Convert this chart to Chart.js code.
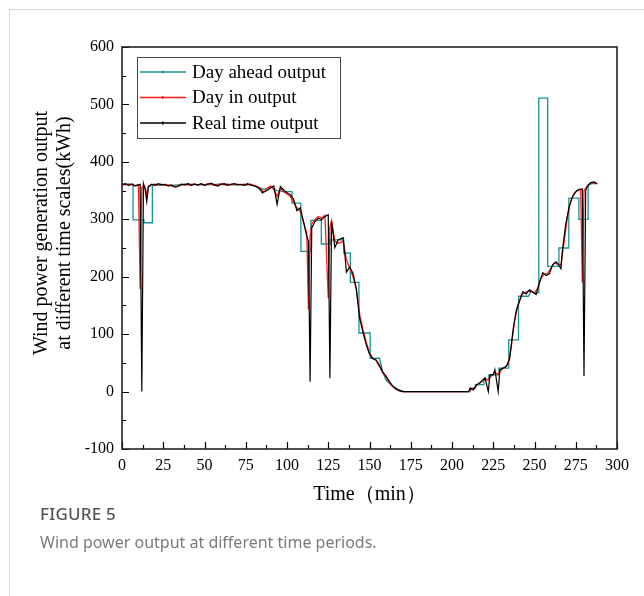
<!DOCTYPE html>
<html><head><meta charset="utf-8">
<script src="https://cdn.jsdelivr.net/npm/chart.js@4.4.1/dist/chart.umd.min.js"></script>
<style>
html,body{margin:0;padding:0;background:#fff;}
#wrap{position:relative;width:644px;height:596px;overflow:hidden;background:#fff;}
#card{position:absolute;left:9px;top:9px;width:800px;height:800px;border-left:1px solid #d9d9d9;border-top:1px solid #d9d9d9;}
#cv{position:absolute;left:0;top:0;}
#fig{position:absolute;left:40px;top:502px;font-family:"Noto Sans","Open Sans",sans-serif;font-size:17px;color:#555;font-weight:500;letter-spacing:0.2px;}
#cap{position:absolute;left:40px;top:531px;font-family:"Noto Sans","Open Sans",sans-serif;font-size:16px;color:#7a7a7a;}
</style></head>
<body>
<div id="wrap">
<div id="card"></div>
<canvas id="cv" width="644" height="520"></canvas>
<div id="fig">FIGURE 5</div>
<div id="cap">Wind power output at different time periods.</div>
</div>
<script>
// ---- data ----
const xTicks = [0,25,50,75,100,125,150,175,200,225,250,275,300];
const yTicks = [-100,0,100,200,300,400,500,600];

const dayAheadT = [0,6.7,6.7,13.3,13.3,18.4,18.4,30,40,50,60,70,78,82,86,90,94,98,103,103,108.4,108.4,114.5,114.5,120.8,120.8,126.6,126.6,134.4,134.4,138.4,138.4,143.6,143.6,150.4,150.4,156,158,160,164,168,171,211,211,214.2,214.2,219.3,219.3,222.3,222.3,228.4,228.4,234.4,234.4,240.3,240.3,246.3,248,250,252.6,252.6,258,258,264.8,264.8,270.8,270.8,276.9,276.9,282.5,282.5,285,288];
const dayAheadV = [361,361,299,299,294,294,360,359,361,360,361,360,360,357,352,356,350,348,348,328,328,244,244,298,298,257,257,264,264,241,241,190,190,102,102,58,58,35,20,9,3,0,0,6,6,12,12,21,21,29,29,41,41,90,90,166,166,175,172,172,511,511,218,218,250,250,337,337,300,300,360,362,362];

const dayInT = [0,2,4,6,8,10,11,12,13,14,15,16,18,20,22,24,26,28,30,32,34,36,38,40,42,44,46,48,50,52,54,56,58,60,62,64,66,68,70,72,74,76,78,80,82,84,86,88,90,92,94,96,98,100,102,104,106,108,110,112,113,114,115,117,119,121,123,125,126,127,129,131,134,136,138,140,142,144,146,148,150,152,154,156,158,160,162,164,166,168,170,180,190,200,210,212,214,216,218,220,222,224,226,228,230,232,234,236,238,240,242,244,246,248,250,252,254,256,258,260,262,264,266,268,270,272,274,276,278,279,280,282,284,286,288];
const dayInV = [361,360,361,360,359,360,178,355,360,356,342,358,360,361,360,361,359,360,358,357,358,360,361,360,360,362,359,361,360,362,361,359,360,362,360,361,360,361,361,360,361,360,361,359,357,353,347,354,358,352,340,354,348,344,340,330,320,314,295,275,143,270,292,300,305,302,307,163,285,298,262,258,262,230,215,200,180,135,108,86,68,58,54,44,33,25,16,9,4,1,0,0,0,0,0,4,8,14,18,22,20,28,33,30,38,42,48,80,125,150,168,172,175,174,172,180,198,204,206,215,224,222,220,262,305,332,345,350,352,190,350,358,363,364,362];

const realT = [0,2,4,6,8,10,11,12,13,14,15,16,18,20,22,24,26,28,30,32,34,36,38,40,42,44,46,48,50,52,54,56,58,60,62,64,66,68,70,72,74,76,78,80,82,84,85,86,88,90,92,94,96,98,100,102,104,106,108,110,112,113,114,115,117,119,121,123,125,126,127,129,131,134,135,136,138,140,142,144,146,148,150,152,154,156,158,160,162,164,166,168,170,180,190,200,210,211,213,215,217,219,220,222,223,225,226,228,229,231,233,235,237,239,241,243,245,247,249,251,253,255,257,259,261,263,264,266,267,269,271,273,275,277,278,279,280,281,282,284,286,288];
const realV = [360,362,359,361,358,360,361,0,362,352,331,356,361,359,362,360,361,358,360,356,357,361,360,362,359,361,360,362,359,361,363,360,358,361,362,359,361,362,360,361,359,362,360,358,356,351,346,348,350,355,358,326,357,351,346,343,335,315,320,296,270,262,17,285,296,302,299,305,308,23,296,251,264,268,241,208,217,206,178,128,104,82,65,57,55,46,34,27,18,10,5,2,0,0,0,0,0,6,3,12,15,21,24,0,29,29,38,0,38,41,44,58,107,142,158,174,170,177,173,169,190,207,202,205,221,226,223,214,248,293,322,339,348,352,352,353,27,350,357,364,365,362];

const seriesNames = ['Day ahead output','Day in output','Real time output'];
const seriesColors = ['#1a9393','#ff1a1a','#000000'];

const toXY = (t, v) => t.map((x, i) => ({x: x, y: v[i]}));

const FONT = "'Liberation Serif', 'Times New Roman', serif";
Chart.defaults.font.family = FONT;
Chart.defaults.color = '#000';

const framePlugin = {
  id: 'frame',
  afterDraw(chart) {
    const {ctx, chartArea: a, scales: {x, y}} = chart;
    ctx.save();
    ctx.strokeStyle = '#000';
    ctx.lineWidth = 1.2;
    ctx.beginPath();
    for (const v of yTicks) {
      const py = Math.round(y.getPixelForValue(v)) + 0.5;
      ctx.moveTo(a.left, py); ctx.lineTo(a.left + 7, py);
      if (v < 600) {
        const pm = Math.round(y.getPixelForValue(v + 50)) + 0.5;
        ctx.moveTo(a.left, pm); ctx.lineTo(a.left + 4, pm);
      }
    }
    for (const v of xTicks) {
      const px = Math.round(x.getPixelForValue(v)) + 0.5;
      ctx.moveTo(px, a.bottom); ctx.lineTo(px, a.bottom - 7);
      if (v < 300) {
        const pm = Math.round(x.getPixelForValue(v + 12.5)) + 0.5;
        ctx.moveTo(pm, a.bottom); ctx.lineTo(pm, a.bottom - 4);
      }
    }
    ctx.stroke();
    ctx.lineWidth = 1.6;
    ctx.strokeStyle = '#222';
    ctx.strokeRect(a.left, a.top, a.right - a.left, a.bottom - a.top);

    // tick labels, placed through the chart's own scales
    ctx.fillStyle = '#000';
    ctx.font = '16px ' + FONT;
    ctx.textAlign = 'right';
    ctx.textBaseline = 'middle';
    for (const v of yTicks) ctx.fillText(String(v), a.left - 8, y.getPixelForValue(v));
    ctx.textAlign = 'center';
    for (const v of xTicks) ctx.fillText(String(v), x.getPixelForValue(v), a.bottom + 17);

    // legend
    const bx = a.left + 15, by = a.top + 10, bw = 203, bh = 81;
    ctx.fillStyle = '#fff';
    ctx.fillRect(bx, by, bw, bh);
    ctx.lineWidth = 1;
    ctx.strokeStyle = '#444';
    ctx.strokeRect(bx + 0.5, by + 0.5, bw, bh);
    ctx.font = '19px ' + FONT;
    ctx.textBaseline = 'middle';
    ctx.textAlign = 'left';
    for (let i = 0; i < 3; i++) {
      const ly = by + 15 + i * 25.5;
      ctx.strokeStyle = seriesColors[i];
      ctx.lineWidth = 1.3;
      ctx.beginPath();
      ctx.moveTo(bx + 3, ly); ctx.lineTo(bx + 49, ly);
      ctx.stroke();
      ctx.fillStyle = seriesColors[i];
      ctx.fillRect(bx + 25, ly - 1.5, 1.5, 3);
      ctx.fillStyle = '#000';
      ctx.fillText(seriesNames[i], bx + 55, ly + 1);
    }
    ctx.restore();
  }
};

new Chart(document.getElementById('cv'), {
  type: 'line',
  data: {
    datasets: [
      {label: seriesNames[2], data: toXY(realT, realV), borderColor: seriesColors[2], borderWidth: 1.2, order: 0},
      {label: seriesNames[1], data: toXY(dayInT, dayInV), borderColor: seriesColors[1], borderWidth: 1.3, order: 1},
      {label: seriesNames[0], data: toXY(dayAheadT, dayAheadV), borderColor: seriesColors[0], borderWidth: 1.3, order: 2}
    ]
  },
  options: {
    responsive: false,
    animation: false,
    devicePixelRatio: 1,
    font: {family: FONT},
    elements: {point: {radius: 0}, line: {tension: 0}},
    layout: {padding: {left: 20, top: 47, right: 27, bottom: 9}},
    plugins: {legend: {display: false}, tooltip: {enabled: false}},
    scales: {
      x: {
        type: 'linear', min: 0, max: 300,
        afterBuildTicks: s => { s.ticks = xTicks.map(v => ({value: v})); },
        ticks: {display: false},
        grid: {display: false, drawTicks: false},
        border: {display: false},
        title: {display: true, text: 'Time（min）', font: {family: FONT, size: 20}, color: '#000', padding: {top: 0, bottom: 4}},
        afterFit: s => { s.height = 62; }
      },
      y: {
        type: 'linear', min: -100, max: 600,
        afterBuildTicks: s => { s.ticks = yTicks.map(v => ({value: v})); },
        ticks: {display: false},
        grid: {display: false, drawTicks: false},
        border: {display: false},
        title: {display: true, text: ['      Wind power generation output', '      at different time scales(kWh)'], font: {family: FONT, size: 20, lineHeight: 1.15}, color: '#000', padding: {top: 10, bottom: 0}},
        afterFit: s => { s.width = 102; }
      }
    }
  },
  plugins: [framePlugin]
});
</script>
</body></html>
